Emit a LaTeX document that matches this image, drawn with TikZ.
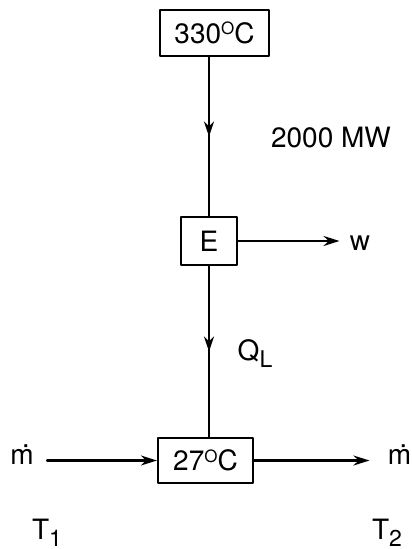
\documentclass[tikz,border=0pt]{standalone}
\usepackage{fontspec}
\setmainfont{TeX Gyre Heros}
\usetikzlibrary{arrows.meta, decorations.markings}

% grote sub- en superscripts zoals in de figuur
\newcommand{\lowidx}[1]{\raisebox{-3.5pt}{\fontsize{11.5}{13}\selectfont #1}}
\newcommand{\degO}{\raisebox{4.3pt}{\fontsize{8.5}{10}\selectfont O}}

\begin{document}
\begin{tikzpicture}[x=0.5pt, y=-0.5pt, >={Stealth[length=8pt, width=5pt]}, line cap=round, line join=round]

% --- Global TikZ Styles ---
\tikzset{
    box/.style={
        draw=black,
        line width=1.1pt,
        inner sep=0pt,
        font=\fontsize{14}{16}\selectfont
    },
    txt/.style={
        inner sep=0pt,
        font=\fontsize{14}{16}\selectfont
    },
    flow/.style={
        ->,
        line width=1.1pt,
        draw=black
    },
    midflow/.style={
        line width=1.1pt,
        draw=black,
        postaction={decorate},
        decoration={markings,
            mark=at position 0.5 with {\arrow{Stealth[length=7.5pt, width=5pt]}}}
    }
}

\useasboundingbox (0,0) rectangle (411,549);

% --- Reservoirs en motor ---
\node[box, minimum width=54.5pt, minimum height=23pt] (hot) at (214.5,33) {330\degO C};
\node[box, minimum width=28pt, minimum height=24pt] (eng) at (209,241) {E};
\node[box, minimum width=47.5pt, minimum height=22.5pt] (cold) at (205.5,460.5) {27\degO C};

% --- Labels ---
\node[txt] (power) at (331,138) {2000 MW};
\node[txt] (work) at (360,243.5) {w};
\node[txt] (heat) at (255,354) {Q\lowidx{L}};
\node[txt] (min) at (22,455) {\.{m}};
\node[txt] (mout) at (399.5,455) {\.{m}};
\node[txt] (tin) at (47,533) {T\lowidx{1}};
\node[txt] (tout) at (387,533) {T\lowidx{2}};

% --- Warmtestromen ---
\draw[midflow] (eng.north |- hot.south) -- (eng.north);
\draw[midflow] (eng.south) -- (eng.south |- cold.north);

% --- Arbeid ---
\draw[flow, shorten >=5pt] (eng.east) -- (eng.east -| work.west);

% --- Massastroom ---
\draw[flow, shorten <=6.5pt] (min.east |- cold.west) -- (cold.west);
\draw[flow, shorten >=9pt] (cold.east) -- (cold.east -| mout.west);

\end{tikzpicture}
\end{document}
